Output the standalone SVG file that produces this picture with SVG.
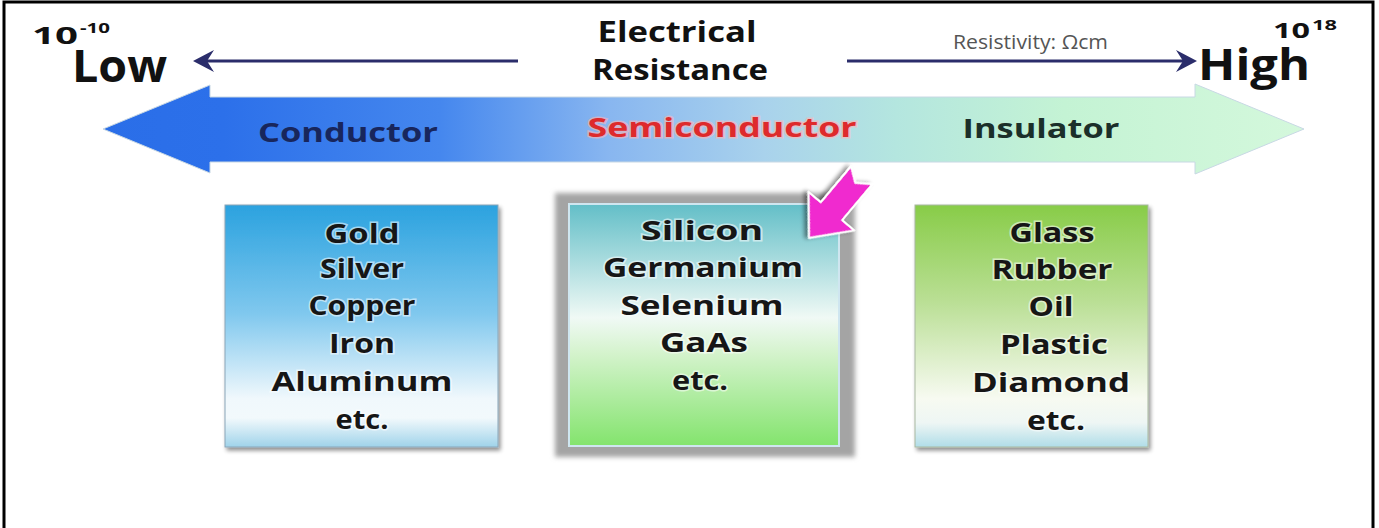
<svg xmlns="http://www.w3.org/2000/svg" width="1379" height="528" viewBox="0 0 1379 528">
<defs>
  <style>
    .t { font-family: "Open Sans", "DejaVu Sans", sans-serif; font-weight: 700; }
    .box-t { font-family: "Open Sans", "DejaVu Sans", sans-serif; font-weight: 700; font-size: 27px; fill: #161616; text-anchor: middle; stroke: rgba(255,255,255,0.55); stroke-width: 3px; paint-order: stroke; }
    .thin { stroke: #2b2d6b; stroke-width: 3; fill: none; }
    .head { fill: #2b2d6b; }
  </style>
  <linearGradient id="band" x1="103" y1="0" x2="1305" y2="0" gradientUnits="userSpaceOnUse">
    <stop offset="0" stop-color="#2a6ee8"/>
    <stop offset="0.1" stop-color="#2c70ea"/>
    <stop offset="0.28" stop-color="#4587ee"/>
    <stop offset="0.42" stop-color="#88b6f0"/>
    <stop offset="0.55" stop-color="#a9d2ec"/>
    <stop offset="0.66" stop-color="#b4e6df"/>
    <stop offset="0.8" stop-color="#c4f3d4"/>
    <stop offset="1" stop-color="#d4f8dc"/>
  </linearGradient>
  <linearGradient id="g1" x1="0" y1="0" x2="0" y2="1">
    <stop offset="0" stop-color="#2ba2df"/>
    <stop offset="0.45" stop-color="#80c8ee"/>
    <stop offset="0.8" stop-color="#f0f8fc"/>
    <stop offset="0.88" stop-color="#f2f9fc"/>
    <stop offset="1" stop-color="#9fd3ea"/>
  </linearGradient>
  <linearGradient id="g2" x1="0" y1="0" x2="0" y2="1">
    <stop offset="0" stop-color="#64bfc8"/>
    <stop offset="0.47" stop-color="#f0f9f5"/>
    <stop offset="0.62" stop-color="#d4f3cc"/>
    <stop offset="1" stop-color="#84e46e"/>
  </linearGradient>
  <linearGradient id="g3" x1="0" y1="0" x2="0" y2="1">
    <stop offset="0" stop-color="#88cc48"/>
    <stop offset="0.4" stop-color="#badf95"/>
    <stop offset="0.8" stop-color="#f7faf1"/>
    <stop offset="0.9" stop-color="#eef6f4"/>
    <stop offset="1" stop-color="#b0dde8"/>
  </linearGradient>
  <filter id="shadow" x="-10%" y="-10%" width="125%" height="125%">
    <feGaussianBlur in="SourceAlpha" stdDeviation="2"/>
    <feOffset dx="2" dy="3" result="o"/>
    <feComponentTransfer><feFuncA type="linear" slope="0.45"/></feComponentTransfer>
    <feMerge><feMergeNode/><feMergeNode in="SourceGraphic"/></feMerge>
  </filter>
  <filter id="soft" x="-10%" y="-10%" width="120%" height="120%">
    <feGaussianBlur stdDeviation="2.5"/>
  </filter>
</defs>

<rect x="4" y="2" width="1369" height="540" fill="#ffffff" stroke="#000000" stroke-width="3"/>

<g id="scale-labels">
  <text class="t" x="32" y="44" font-size="24" fill="#111" textLength="46" lengthAdjust="spacingAndGlyphs">10</text>
  <text class="t" x="80" y="33" font-size="15" fill="#111" textLength="30" lengthAdjust="spacingAndGlyphs">-10</text>
  <text class="t" x="72" y="82" font-size="44" fill="#111" textLength="95" lengthAdjust="spacingAndGlyphs">Low</text>
  <text class="t" x="1273" y="38" font-size="21" fill="#111" textLength="37" lengthAdjust="spacingAndGlyphs">10</text>
  <text class="t" x="1312" y="30" font-size="15" fill="#111" textLength="25" lengthAdjust="spacingAndGlyphs">18</text>
  <text class="t" x="1198" y="80" font-size="43" fill="#111" textLength="112" lengthAdjust="spacingAndGlyphs">High</text>
</g>

<g id="title">
  <text class="t" x="677" y="42" font-size="28" fill="#111" text-anchor="middle" textLength="159" lengthAdjust="spacingAndGlyphs">Electrical</text>
  <text class="t" x="680" y="80" font-size="28" fill="#111" text-anchor="middle" textLength="176" lengthAdjust="spacingAndGlyphs">Resistance</text>
  <text x="953" y="49" font-family="Open Sans, DejaVu Sans, sans-serif" font-size="20" fill="#555" textLength="155" lengthAdjust="spacingAndGlyphs">Resistivity: Ωcm</text>
</g>

<g id="connectors">
  <line class="thin" x1="518" y1="61" x2="205" y2="61"/>
  <polygon class="head" points="193,61 214,50 207,61 214,72"/>
  <line class="thin" x1="847" y1="61" x2="1185" y2="61"/>
  <polygon class="head" points="1197,61 1176,50 1183,61 1176,72"/>
</g>

<g id="band-arrow">
  <polygon points="103,129 210,85 210,97 1195,97 1195,84 1304,129 1195,174 1195,162 210,162 210,173" fill="url(#band)" stroke="#c8d8e4" stroke-width="1"/>
  <text class="t" x="348" y="142" font-size="27" fill="#18265c" text-anchor="middle" textLength="180" lengthAdjust="spacingAndGlyphs">Conductor</text>
  <text class="t" x="722" y="137" font-size="27" fill="#de2a2c" text-anchor="middle" textLength="269" lengthAdjust="spacingAndGlyphs" stroke="rgba(255,180,180,0.6)" stroke-width="3" paint-order="stroke">Semiconductor</text>
  <text class="t" x="1041" y="138" font-size="27" fill="#1b2f2a" text-anchor="middle" textLength="157" lengthAdjust="spacingAndGlyphs">Insulator</text>
</g>

<g id="conductor-box">
  <rect x="225" y="205" width="273" height="242" fill="url(#g1)" stroke="#8aa6b8" stroke-width="1" filter="url(#shadow)"/>
  <text class="box-t" x="362" y="243" textLength="75" lengthAdjust="spacingAndGlyphs">Gold</text>
  <text class="box-t" x="362" y="278" textLength="84" lengthAdjust="spacingAndGlyphs">Silver</text>
  <text class="box-t" x="362" y="315" textLength="107" lengthAdjust="spacingAndGlyphs">Copper</text>
  <text class="box-t" x="362" y="353" textLength="66" lengthAdjust="spacingAndGlyphs">Iron</text>
  <text class="box-t" x="362" y="391" textLength="181" lengthAdjust="spacingAndGlyphs">Aluminum</text>
  <text class="box-t" x="362" y="429" textLength="53" lengthAdjust="spacingAndGlyphs">etc.</text>
</g>

<g id="semiconductor-box">
  <rect x="555" y="193" width="300" height="264" fill="#a4a4a4" filter="url(#soft)"/>
  <rect x="569" y="204" width="270" height="242" fill="none" stroke="#cfe6f0" stroke-width="2"/>
  <rect x="570" y="205" width="268" height="240" fill="url(#g2)"/>
  <text class="box-t" x="702" y="240" textLength="122" lengthAdjust="spacingAndGlyphs">Silicon</text>
  <text class="box-t" x="703" y="277" textLength="200" lengthAdjust="spacingAndGlyphs">Germanium</text>
  <text class="box-t" x="702" y="315" textLength="163" lengthAdjust="spacingAndGlyphs">Selenium</text>
  <text class="box-t" x="704" y="352" textLength="88" lengthAdjust="spacingAndGlyphs">GaAs</text>
  <text class="box-t" x="700" y="390" textLength="56" lengthAdjust="spacingAndGlyphs">etc.</text>
</g>

<g id="pointer">
  <polygon transform="translate(809,238) rotate(130)" points="0,0 -35,-30 -35,-14 -82,-14 -72,0 -82,14 -35,14 -35,30" fill="#f02ccf" stroke="#ffffff" stroke-width="2" stroke-linejoin="round" filter="url(#shadow)"/>
</g>

<g id="insulator-box">
  <rect x="915" y="205" width="233" height="242" fill="url(#g3)" stroke="#a8b8a0" stroke-width="1" filter="url(#shadow)"/>
  <text class="box-t" x="1052" y="242" textLength="85" lengthAdjust="spacingAndGlyphs">Glass</text>
  <text class="box-t" x="1052" y="279" textLength="121" lengthAdjust="spacingAndGlyphs">Rubber</text>
  <text class="box-t" x="1051" y="316" textLength="45" lengthAdjust="spacingAndGlyphs">Oil</text>
  <text class="box-t" x="1054" y="354" textLength="108" lengthAdjust="spacingAndGlyphs">Plastic</text>
  <text class="box-t" x="1051" y="392" textLength="158" lengthAdjust="spacingAndGlyphs">Diamond</text>
  <text class="box-t" x="1056" y="430" textLength="58" lengthAdjust="spacingAndGlyphs">etc.</text>
</g>
</svg>
